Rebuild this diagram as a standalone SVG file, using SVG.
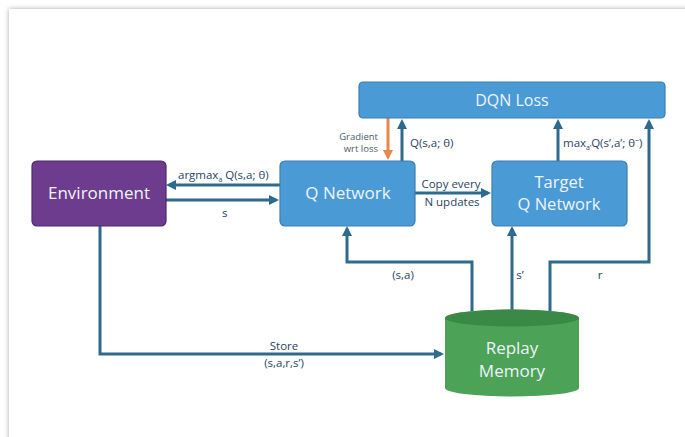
<svg xmlns="http://www.w3.org/2000/svg" width="685" height="437" viewBox="0 0 685 437">
  <defs>
    <filter id="cardShadow" x="-5%" y="-5%" width="110%" height="110%">
      <feDropShadow dx="0" dy="0" stdDeviation="2.5" flood-color="#000" flood-opacity="0.35"/>
    </filter>
    <marker id="arrow" viewBox="0 0 10 10" markerWidth="10" markerHeight="10" refX="7" refY="5" orient="auto" markerUnits="userSpaceOnUse">
      <path d="M0,0 L10,5 L0,10 z" fill="#2d6a8e"/>
    </marker>
    <marker id="arrowOrange" viewBox="0 0 10 10" markerWidth="10" markerHeight="10" refX="7" refY="5" orient="auto" markerUnits="userSpaceOnUse">
      <path d="M0,0 L10,5 L0,10 z" fill="#e8874a"/>
    </marker>
    <style>
      .box { fill: #4a9bd5; stroke: #3a7fb2; stroke-width: 1.2; }
      .env { fill: #6e3c8e; stroke: #4d2968; stroke-width: 1.2; }
      .title { font-family: "Open Sans", "Noto Sans", sans-serif; fill: #eef4fa; text-anchor: middle; }
      .lbl { font-family: "Open Sans", "Noto Sans", sans-serif; font-size: 11.5px; fill: #2a445f; }
      .small { font-family: "Open Sans", "Noto Sans", sans-serif; font-size: 9.5px; fill: #4a5a6c; text-anchor: end; }
      .conn { fill: none; stroke: #2d6a8e; stroke-width: 3; marker-end: url(#arrow); }
      .grad { fill: none; stroke: #e8874a; stroke-width: 3; marker-end: url(#arrowOrange); }
    </style>
  </defs>

  <!-- page background and card -->
  <rect x="0" y="0" width="685" height="437" fill="#ffffff"/>
  <rect x="9" y="9" width="700" height="450" fill="#ffffff" filter="url(#cardShadow)"/>

  <!-- connectors -->
  <g id="connectors">
    <path class="conn" d="M280,185 H169"/>
    <path class="conn" d="M166,200 H276"/>
    <path class="grad" d="M388,118 V157"/>
    <path class="conn" d="M402,161 V122"/>
    <path class="conn" d="M558,161 V122"/>
    <path class="conn" d="M415,193 H488"/>
    <path class="conn" d="M472,311 V262 H347 V229"/>
    <path class="conn" d="M512,311 V229"/>
    <path class="conn" d="M550,311 V262 H649 V122"/>
    <path class="conn" d="M100,226 V354 H441"/>

    <text class="lbl" x="178" y="179">argmax<tspan font-size="7" dy="3">a</tspan><tspan dy="-3"> Q(s,a; θ)</tspan></text>
    <text class="lbl" x="222" y="217">s</text>
    <text class="small" x="378" y="140">Gradient</text>
    <text class="small" x="378" y="152">wrt loss</text>
    <text class="lbl" x="410" y="147">Q(s,a; θ)</text>
    <text class="lbl" x="563" y="147">max<tspan font-size="7" dy="3">a’</tspan><tspan dy="-3">Q(s’,a’; θ⁻)</tspan></text>
    <text class="lbl" x="451" y="188" text-anchor="middle">Copy every</text>
    <text class="lbl" x="452" y="206" text-anchor="middle">N updates</text>
    <text class="lbl" x="403" y="279" text-anchor="middle">(s,a)</text>
    <text class="lbl" x="520" y="279" text-anchor="middle">s’</text>
    <text class="lbl" x="600" y="279" text-anchor="middle">r</text>
    <text class="lbl" x="284" y="350" text-anchor="middle">Store</text>
    <text class="lbl" x="284" y="367" text-anchor="middle">(s,a,r,s’)</text>
  </g>

  <g id="dqn-loss">
    <rect class="box" x="359" y="82" width="306" height="36" rx="4"/>
    <text class="title" x="512" y="106" font-size="16">DQN Loss</text>
  </g>

  <g id="environment">
    <rect class="env" x="32" y="161" width="134" height="65" rx="5"/>
    <text class="title" x="99" y="199" font-size="17">Environment</text>
  </g>

  <g id="q-network">
    <rect class="box" x="280" y="161" width="135" height="65" rx="5"/>
    <text class="title" x="348" y="199" font-size="17">Q Network</text>
  </g>

  <g id="target-q-network">
    <rect class="box" x="492" y="161" width="135" height="65" rx="5"/>
    <text class="title" x="559" y="188" font-size="16.5">Target</text>
    <text class="title" x="559" y="210" font-size="16.5">Q Network</text>
  </g>

  <g id="replay-memory">
    <path d="M445,318 V388 A67,8.5 0 0 0 579,388 V318 A67,8.5 0 0 0 445,318 z" fill="#4ca257"/>
    <ellipse cx="512" cy="318" rx="67" ry="8.5" fill="#3a8946"/>
    <text class="title" x="512" y="354" font-size="17">Replay</text>
    <text class="title" x="512" y="377" font-size="17">Memory</text>
  </g>
</svg>
